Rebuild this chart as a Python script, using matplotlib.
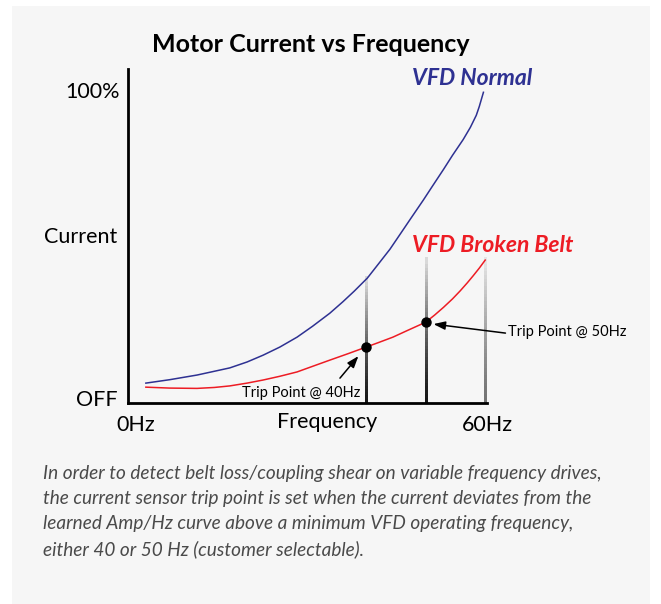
import numpy as np
import matplotlib
matplotlib.use('Agg')
import matplotlib.pyplot as plt
from matplotlib.collections import LineCollection
from matplotlib.patches import Rectangle

plt.rcParams['font.family'] = ['Lato', 'DejaVu Sans']

# data (Hz, % current)
freq_normal = [3.0, 7.0, 11.6, 14.0, 17.1, 20.0, 22.7, 25.5, 28.4, 31.0, 33.9, 36.1, 38.0, 40.2, 42.0,
               44.0, 45.7, 47.5, 49.6, 51.0, 53.0, 54.5, 56.3, 57.5, 58.5, 59.0, 59.7]
cur_normal = [6.4, 7.5, 9.0, 10.0, 11.3, 13.2, 15.4, 18.0, 21.2, 24.7, 28.9, 32.6, 36.0, 40.2, 44.6,
              49.5, 54.3, 59.4, 65.3, 69.4, 75.2, 79.7, 84.8, 88.7, 92.6, 95.4, 100.0]
freq_broken = [3.0, 7.0, 11.6, 14.5, 17.1, 20.0, 22.7, 25.5, 28.4, 31.0, 33.9, 37.0, 40.0, 42.0,
               44.5, 47.0, 50.0, 51.5, 53.0, 54.5, 55.8, 57.0, 58.0, 59.0, 60.0]
cur_broken = [5.1, 4.8, 4.7, 5.0, 5.5, 6.4, 7.4, 8.6, 10.0, 11.8, 13.8, 15.9, 18.0, 19.4,
              21.2, 23.4, 26.0, 28.3, 30.8, 33.5, 36.1, 38.7, 41.0, 43.4, 46.0]
trip_freq = [40, 50]
trip_cur = [18.0, 26.0]
guide_freq = [40, 50, 60]
guide_top = [40.5, 46.6, 46.6]

W, H = 661, 604
fig = plt.figure(figsize=(W / 100, H / 100), dpi=100, facecolor='white')

def fx(px): return px / W
def fy(py): return 1 - py / H

# grey panel behind everything
fig.patches.append(Rectangle((fx(12), fy(604)), fx(650) - fx(12), fy(6) - fy(604),
                             transform=fig.transFigure, facecolor='#f6f6f6', edgecolor='none', zorder=-5))

ax = fig.add_axes([fx(128), fy(403), fx(487) - fx(128), fy(69) - fy(403)])
ax.set_zorder(2)
ax.set_facecolor('none')
ax.set_xlim(0, 60.3)
ax.set_ylim(0, 107.5)
for s in ['top', 'right']:
    ax.spines[s].set_visible(False)
for s in ['left', 'bottom']:
    ax.spines[s].set_linewidth(2.0)
    ax.spines[s].set_color('black')
ax.set_xticks([])
ax.set_yticks([])

# fading vertical guide lines
for i, (f, top) in enumerate(zip(guide_freq, guide_top)):
    ys = np.linspace(0, top, 40)
    segs = [[(f, ys[k]), (f, ys[k + 1])] for k in range(len(ys) - 1)]
    t = np.linspace(0, 1, len(segs))
    if i < 2:
        lo, hi, lw = 0.08, 0.85, 1.8
    else:
        lo, hi, lw = 0.45, 0.9, 1.0
    g = lo + (hi - lo) * t ** 1.3
    cols = [(v, v, v, 1) for v in g]
    ax.add_collection(LineCollection(segs, colors=cols, linewidths=lw, capstyle='projecting',
                                     antialiaseds=False, zorder=2))

ax.plot(freq_normal, cur_normal, color='#2e3192', lw=1.1, zorder=3, clip_on=False)
ax.plot(freq_broken, cur_broken, color='#ed1c24', lw=1.1, zorder=3, clip_on=False)
ax.plot(trip_freq, trip_cur, 'o', color='black', ms=6.5, zorder=4, clip_on=False)

arrow = dict(arrowstyle='-|>,head_length=0.7,head_width=0.25', color='black', lw=1.1, shrinkA=0, shrinkB=0)
ax.annotate('', xy=(38.7, 15.1), xytext=(35.6, 8.0), arrowprops=arrow, annotation_clip=False)
ax.annotate('', xy=(51.3, 25.4), xytext=(63.4, 22.5), arrowprops=arrow, annotation_clip=False)
ax.text(19.2, 3.2, 'Trip Point @ 40Hz', fontsize=10.5, va='center', ha='left', clip_on=False)
ax.text(63.9, 22.8, 'Trip Point @ 50Hz', fontsize=10.5, va='center', ha='left', clip_on=False)

ax.text(47.7, 104.5, 'VFD Normal', color='#2e3192', fontsize=16.5, fontweight='bold',
        fontstyle='italic', va='center', ha='left', clip_on=False)
ax.text(47.7, 50.8, 'VFD Broken Belt', color='#ed1c24', fontsize=16.5, fontweight='bold',
        fontstyle='italic', va='center', ha='left', clip_on=False)

fig.text(fx(311), fy(44), 'Motor Current vs Frequency', fontsize=18, fontweight='bold', ha='center', va='center')

lab = dict(fontsize=15.5, va='center')
fig.text(fx(120), fy(92), '100%', ha='right', **lab)
fig.text(fx(117), fy(237), 'Current', ha='right', **lab)
fig.text(fx(118), fy(400), 'OFF', ha='right', **lab)
fig.text(fx(136), fy(425), '0Hz', ha='center', **lab)
fig.text(fx(327), fy(422), 'Frequency', ha='center', **lab)
fig.text(fx(487), fy(425), '60Hz', ha='center', **lab)

caption = ['In order to detect belt loss/coupling shear on variable frequency drives,',
           'the current sensor trip point is set when the current deviates from the',
           'learned Amp/Hz curve above a minimum VFD operating frequency,',
           'either 40 or 50 Hz (customer selectable).']
for i, line in enumerate(caption):
    fig.text(fx(43), fy(473 + 25.5 * i), line, fontsize=13.7, fontstyle='italic',
             color='#4a4a4a', ha='left', va='center')

fig.savefig('out.png', dpi=100, facecolor='white')
